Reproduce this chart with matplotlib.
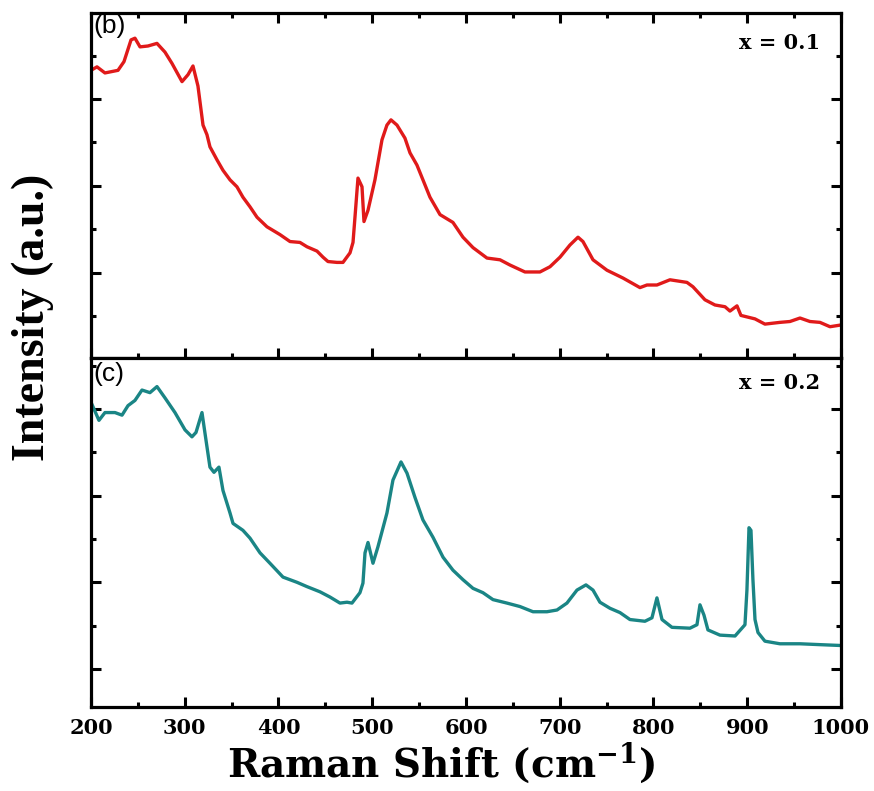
import matplotlib
matplotlib.use('Agg')
import matplotlib.pyplot as plt
from matplotlib.ticker import MultipleLocator, NullFormatter

# Raman spectra (wavenumber in cm^-1, intensity in a.u.)
shift_b = [200, 206.4, 214.9, 228.8, 235.2, 242.7, 246.9, 252.3, 260.8, 270.4,
           278.9, 286.4, 297.1, 303.5, 308.8, 314.1, 319.5, 323.7, 326.9, 334.4,
           340.8, 348.3, 355.7, 362.1, 369.6, 377.1, 387.7, 401.6, 412.3, 422.9,
           430.4, 441.1, 447.5, 452.8, 462.4, 468.8, 476.3, 479.5, 481.6, 484.8,
           489.1, 491.2, 495.5, 502.9, 510.4, 515.7, 520.0, 526.4, 534.9, 540.3,
           547.7, 554.1, 561.6, 572.3, 586.1, 596.8, 607.5, 622.4, 636.3, 646.9,
           662.9, 678.9, 689.6, 700.3, 710.9, 719.5, 724.8, 735.5, 750.4, 767.5,
           785.6, 793.1, 803.7, 817.6, 835.7, 842.1, 854.9, 865.6, 876.3, 881.6,
           889.1, 893.3, 908.3, 918.9, 934.9, 945.6, 956.3, 966.9, 977.6, 988.3,
           1000]
int_b = [3.33, 3.37, 3.30, 3.33, 3.43, 3.68, 3.70, 3.60, 3.61, 3.64,
         3.54, 3.41, 3.20, 3.28, 3.38, 3.15, 2.70, 2.59, 2.45, 2.30,
         2.18, 2.07, 1.99, 1.87, 1.76, 1.64, 1.53, 1.44, 1.36, 1.35,
         1.30, 1.25, 1.18, 1.13, 1.12, 1.12, 1.23, 1.35, 1.64, 2.09,
         1.99, 1.59, 1.72, 2.07, 2.53, 2.70, 2.76, 2.70, 2.55, 2.38,
         2.24, 2.07, 1.87, 1.67, 1.58, 1.41, 1.29, 1.17, 1.15, 1.09,
         1.01, 1.01, 1.07, 1.18, 1.32, 1.41, 1.36, 1.15, 1.03, 0.94,
         0.83, 0.86, 0.86, 0.92, 0.89, 0.84, 0.69, 0.63, 0.61, 0.56,
         0.62, 0.51, 0.47, 0.41, 0.43, 0.44, 0.48, 0.44, 0.43, 0.38,
         0.40]

shift_c = [200, 208.5, 214.9, 225.6, 233.1, 239.5, 246.9, 254.4, 262.9, 270.4,
           278.9, 289.6, 300.3, 307.7, 312.0, 318.4, 322.7, 326.9, 331.2, 336.5,
           340.8, 348.3, 351.5, 362.1, 369.6, 380.3, 390.9, 404.8, 419.7, 430.4,
           444.3, 454.9, 465.6, 473.1, 478.4, 486.9, 490.1, 492.3, 495.5, 500.8,
           506.1, 515.7, 522.1, 530.7, 537.1, 545.6, 554.1, 564.8, 575.5, 586.1,
           596.8, 607.5, 618.1, 628.8, 643.7, 657.6, 671.5, 686.4, 697.1, 707.7,
           718.4, 728.0, 735.5, 742.9, 753.6, 764.3, 774.9, 790.9, 798.4, 803.7,
           809.1, 819.7, 838.9, 846.4, 849.6, 853.9, 858.1, 870.9, 887.0, 897.6,
           899.7, 901.9, 904.0, 906.1, 908.3, 911.5, 918.9, 934.9, 956.3, 977.6,
           1000]
int_c = [4.08, 3.87, 3.96, 3.96, 3.93, 4.04, 4.10, 4.22, 4.19, 4.26,
         4.13, 3.96, 3.76, 3.68, 3.73, 3.96, 3.64, 3.33, 3.27, 3.33,
         3.06, 2.80, 2.68, 2.60, 2.51, 2.34, 2.22, 2.06, 2.00, 1.95,
         1.89, 1.83, 1.76, 1.77, 1.76, 1.88, 1.99, 2.34, 2.46, 2.22,
         2.41, 2.80, 3.18, 3.39, 3.26, 2.98, 2.72, 2.52, 2.29, 2.14,
         2.03, 1.93, 1.88, 1.80, 1.76, 1.72, 1.66, 1.66, 1.68, 1.76,
         1.91, 1.97, 1.91, 1.77, 1.70, 1.65, 1.57, 1.55, 1.59, 1.82,
         1.57, 1.48, 1.47, 1.51, 1.74, 1.62, 1.45, 1.39, 1.38, 1.51,
         1.91, 2.63, 2.60, 2.03, 1.57, 1.42, 1.32, 1.29, 1.29, 1.28,
         1.27]

panel_tags = ['(b)', '(c)']
compositions = ['x = 0.1', 'x = 0.2']
x_ticks = [200, 300, 400, 500, 600, 700, 800, 900, 1000]

plt.rcParams['mathtext.fontset'] = 'dejavuserif'

fig = plt.figure(figsize=(8.74, 7.91), dpi=100)
ax_b = fig.add_axes([0.1041, 0.5474, 0.8581, 0.4362])
ax_c = fig.add_axes([0.1041, 0.1062, 0.8581, 0.4412], sharex=ax_b)

ax_b.plot(shift_b, int_b, color='#e01a1a', lw=2.4)
ax_c.plot(shift_c, int_c, color='#1a8585', lw=2.4)

ax_b.set_ylim(0.02, 3.99)
ax_c.set_ylim(0.56, 4.59)
ax_b.set_xlim(200, 1000)

for ax in (ax_b, ax_c):
    for sp in ax.spines.values():
        sp.set_linewidth(2.3)
    ax.xaxis.set_major_locator(MultipleLocator(100))
    ax.xaxis.set_minor_locator(MultipleLocator(50))
    ax.yaxis.set_major_locator(MultipleLocator(1))
    ax.yaxis.set_minor_locator(MultipleLocator(0.5))
    ax.yaxis.set_major_formatter(NullFormatter())
    ax.tick_params(which='major', direction='in', length=7, width=2.2, left=True, right=True)
    ax.tick_params(which='minor', direction='in', length=3.5, width=2.2, left=True, right=True)

ax_b.tick_params(which='both', top=True, bottom=True, labelbottom=False)
ax_c.tick_params(which='both', top=False, bottom=True)
ax_c.set_xticks(x_ticks)
ax_c.set_xticklabels([str(t) for t in x_ticks], fontfamily='DejaVu Serif',
                     fontweight='bold', fontsize=15)
ax_c.tick_params(axis='x', which='major', pad=8)

for ax, tag, comp, ty, cy in [(ax_b, panel_tags[0], compositions[0], 0.962, 0.913),
                              (ax_c, panel_tags[1], compositions[1], 0.953, 0.928)]:
    ax.text(0.003, ty, tag, transform=ax.transAxes, ha='left', va='center',
            fontfamily='Liberation Sans', fontsize=19)
    ax.text(0.972, cy, comp, transform=ax.transAxes, ha='right', va='center',
            fontfamily='DejaVu Serif', fontweight='bold', fontsize=15)

fig.text(0.037, 0.599, 'Intensity (a.u.)', rotation=90, ha='center', va='center',
         fontfamily='Liberation Serif', fontweight='bold', fontsize=33)
fig.text(0.505, 0.036, r'Raman Shift (cm$^{\mathbf{-1}}$)', ha='center', va='center',
         fontfamily='DejaVu Serif', fontweight='bold', fontsize=28)

fig.savefig('out.png', dpi=100)
